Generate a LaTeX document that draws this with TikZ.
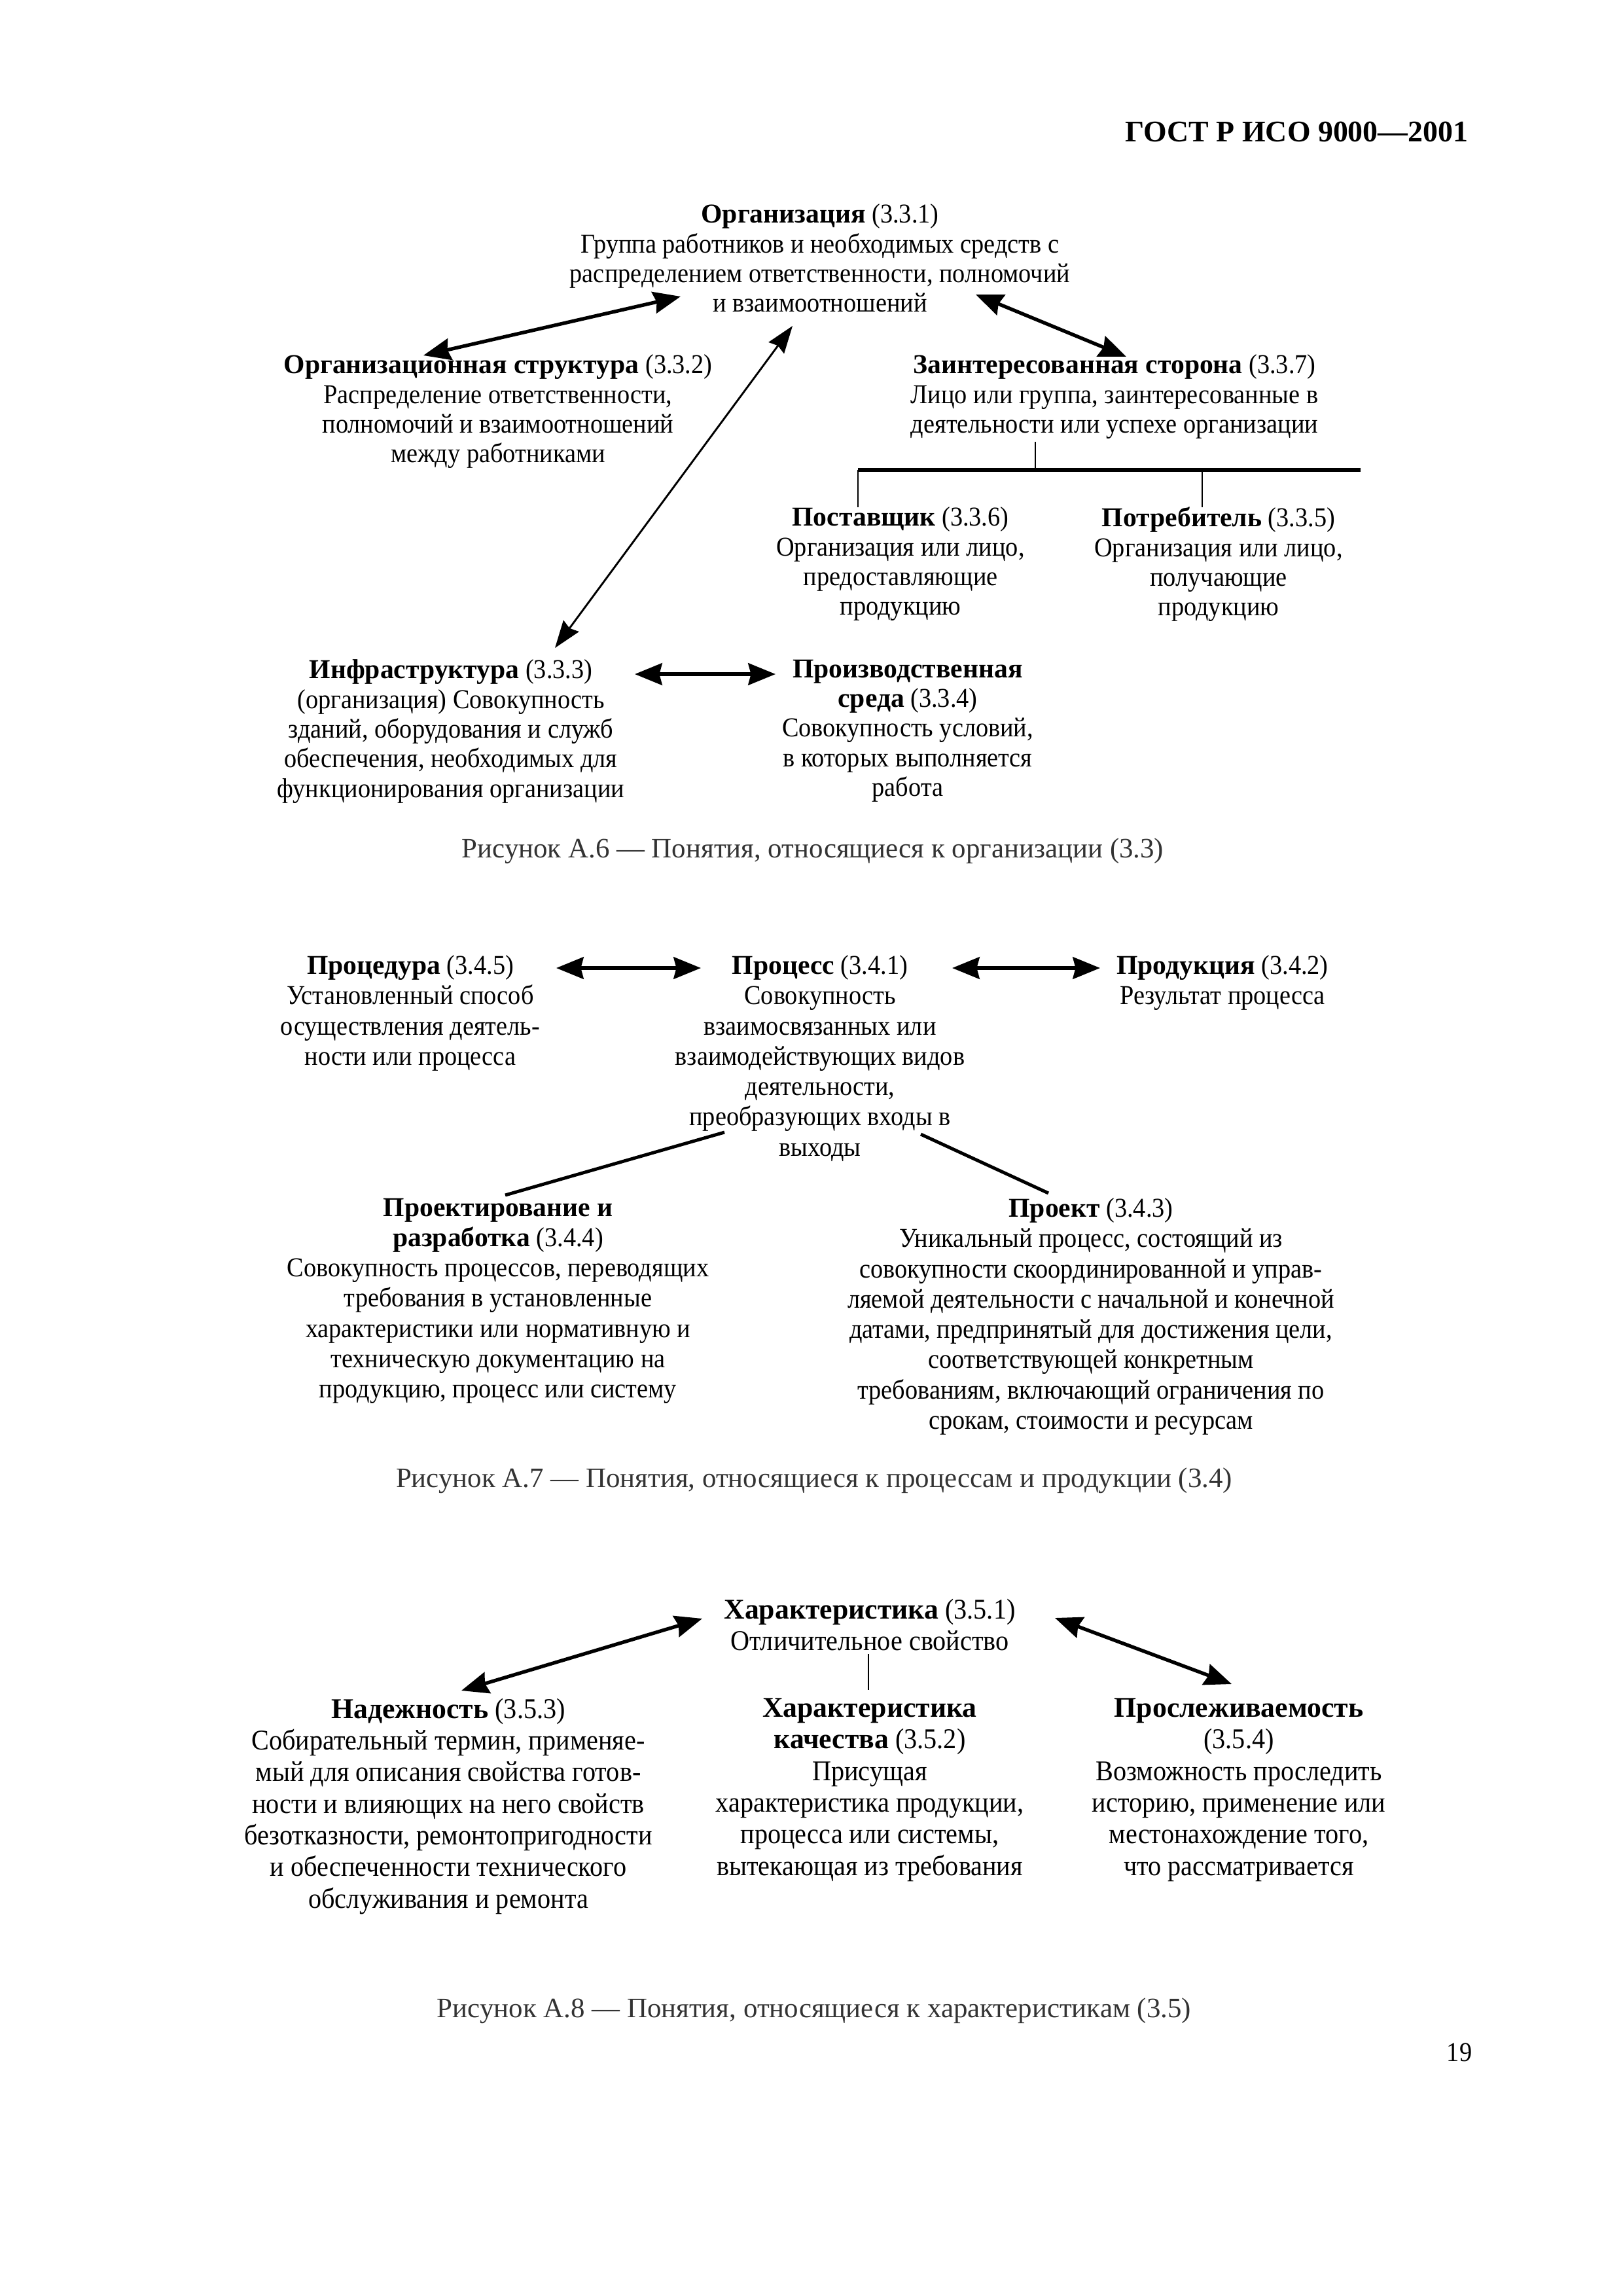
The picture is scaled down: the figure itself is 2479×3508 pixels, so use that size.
\documentclass[tikz,border=0pt]{standalone}
\usepackage{fontspec}
\setmainfont{Liberation Serif}[UprightFeatures={FakeStretch=0.92}]
\newfontfamily\capfont{Liberation Serif}
\usetikzlibrary{arrows.meta}
\begin{document}
\begin{tikzpicture}[x=0.2401pt,y=-0.2401pt,
  blk/.style={anchor=north,align=center,inner sep=0pt,font=\fontsize{10}{10.9}\selectfont},
  blkb/.style={blk,font=\fontsize{10}{11.1}\selectfont},
  blkc/.style={blk,font=\fontsize{10.5}{11.6}\selectfont},
  capt/.style={anchor=north,inner sep=0pt,text=black!80,font=\capfont\fontsize{10.3}{12}\selectfont},
  dblarrow/.style={line width=1.3pt,{Stealth[length=10pt,width=8pt,inset=1pt]}-{Stealth[length=10pt,width=8pt,inset=1pt]}},
  thinarrow/.style={line width=0.7pt,{Stealth[length=10pt,width=7pt,inset=1pt]}-{Stealth[length=10pt,width=7pt,inset=1pt]}},
  treethick/.style={line width=1.5pt},
  treethin/.style={line width=0.7pt},
  plainline/.style={line width=1.2pt}]
\useasboundingbox[fill=white] (0,0) rectangle (2479,3508);

% header
\node[anchor=base east,inner sep=0pt,font=\fontsize{11}{13}\selectfont\bfseries] (hdr) at (2244,217) {ГОСТ Р ИСО 9000—2001};

% ---------- Figure A.6 ----------
\node[blk] (org) at (1253,311) {\textbf{Организация} (3.3.1)\\Группа работников и необходимых средств с\\распределением ответственности, полномочий\\и взаимоотношений};
\node[blk] (orgstr) at (761,541) {\textbf{Организационная структура} (3.3.2)\\Распределение ответственности,\\полномочий и взаимоотношений\\между работниками};
\node[blk] (stake) at (1703,541) {\textbf{Заинтересованная сторона} (3.3.7)\\Лицо или группа, заинтересованные в\\деятельности или успехе организации};
\node[blk] (supplier) at (1376,774) {\textbf{Поставщик} (3.3.6)\\Организация или лицо,\\предоставляющие\\продукцию};
\node[blk] (customer) at (1862,774) {\textbf{Потребитель} (3.3.5)\\Организация или лицо,\\получающие\\продукцию};
\node[blk] (infra) at (689,1007) {\textbf{Инфраструктура} (3.3.3)\\(организация) Совокупность\\зданий, оборудования и служб\\обеспечения, необходимых для\\функционирования организации};
\node[blk] (workenv) at (1387,1007) {\textbf{Производственная}\\\textbf{среда} (3.3.4)\\Совокупность условий,\\в которых выполняется\\работа};
\node[capt] (cap6) at (1242,1280) {Рисунок А.6 — Понятия, относящиеся к организации (3.3)};

\coordinate (a1s) at (1040,453); \coordinate (a1e) at (647,543);
\coordinate (a2s) at (1491,450); \coordinate (a2e) at (1721,545);
\coordinate (a3s) at (1211,498); \coordinate (a3e) at (848,990);
\coordinate (a4s) at (970,1030); \coordinate (a4e) at (1185,1030);
\draw[dblarrow] (a1s) -- (a1e);
\draw[dblarrow] (a2s) -- (a2e);
\draw[thinarrow] (a3s) -- (a3e);
\draw[dblarrow] (a4s) -- (a4e);

\coordinate (t0) at (1582,675); \coordinate (t1) at (1582,718);
\coordinate (tl) at (1311,718); \coordinate (tr) at (2079,718);
\coordinate (tld) at (1311,775); \coordinate (trm) at (1837,718);
\coordinate (trd) at (1837,775);
\draw[treethin] (t0) -- (t1);
\draw[treethick] (tl) -- (tr);
\draw[treethin] (tl) -- (tld);
\draw[treethin] (trm) -- (trd);

% ---------- Figure A.7 ----------
\node[blkb] (proc) at (627,1459) {\textbf{Процедура} (3.4.5)\\Установленный способ\\осуществления деятель-\\ности или процесса};
\node[blkb] (process) at (1253,1459) {\textbf{Процесс} (3.4.1)\\Совокупность\\взаимосвязанных или\\взаимодействующих видов\\деятельности,\\преобразующих входы в\\выходы};
\node[blkb] (product) at (1868,1459) {\textbf{Продукция} (3.4.2)\\Результат процесса};
\node[blkb] (design) at (761,1830) {\textbf{Проектирование и}\\\textbf{разработка} (3.4.4)\\Совокупность процессов, переводящих\\требования в установленные\\характеристики или нормативную и\\техническую документацию на\\продукцию, процесс или систему};
\node[blkb] (project) at (1667,1830) {\textbf{Проект} (3.4.3)\\Уникальный процесс, состоящий из\\совокупности скоординированной и управ-\\ляемой деятельности с начальной и конечной\\датами, предпринятый для достижения цели,\\соответствующей конкретным\\требованиям, включающий ограничения по\\срокам, стоимости и ресурсам};
\node[capt] (cap7) at (1244,2242) {Рисунок А.7 — Понятия, относящиеся к процессам и продукции (3.4)};

\coordinate (b1s) at (850,1479); \coordinate (b1e) at (1071,1479);
\coordinate (b2s) at (1455,1479); \coordinate (b2e) at (1681,1479);
\coordinate (b3s) at (1107,1730); \coordinate (b3e) at (772,1826);
\coordinate (b4s) at (1407,1733); \coordinate (b4e) at (1602,1823);
\draw[dblarrow] (b1s) -- (b1e);
\draw[dblarrow] (b2s) -- (b2e);
\draw[plainline] (b3s) -- (b3e);
\draw[plainline] (b4s) -- (b4e);

% ---------- Figure A.8 ----------
\node[blkc] (char) at (1329,2442) {\textbf{Характеристика} (3.5.1)\\Отличительное свойство};
\node[blkc] (rel) at (685,2594) {\textbf{Надежность} (3.5.3)\\Собирательный термин, применяе-\\мый для описания свойства готов-\\ности и влияющих на него свойств\\безотказности, ремонтопригодности\\и обеспеченности технического\\обслуживания и ремонта};
\node[blkc] (qual) at (1329,2594) {\textbf{Характеристика}\\\textbf{качества} (3.5.2)\\Присущая\\характеристика продукции,\\процесса или системы,\\вытекающая из требования};
\node[blkc] (trace) at (1893,2594) {\textbf{Прослеживаемость}\\(3.5.4)\\Возможность проследить\\историю, применение или\\местонахождение того,\\что рассматривается};
\node[capt] (cap8) at (1244,3052) {Рисунок А.8 — Понятия, относящиеся к характеристикам (3.5)};

\coordinate (c1s) at (1073,2473); \coordinate (c1e) at (705,2583);
\coordinate (c2s) at (1612,2472); \coordinate (c2e) at (1882,2573);
\coordinate (c3s) at (1327,2527); \coordinate (c3e) at (1327,2582);
\draw[dblarrow] (c1s) -- (c1e);
\draw[dblarrow] (c2s) -- (c2e);
\draw[treethin] (c3s) -- (c3e);

\node[anchor=north east,inner sep=0pt,font=\fontsize{10}{12}\selectfont] (pg) at (2250,3121) {19};
\end{tikzpicture}
\end{document}
